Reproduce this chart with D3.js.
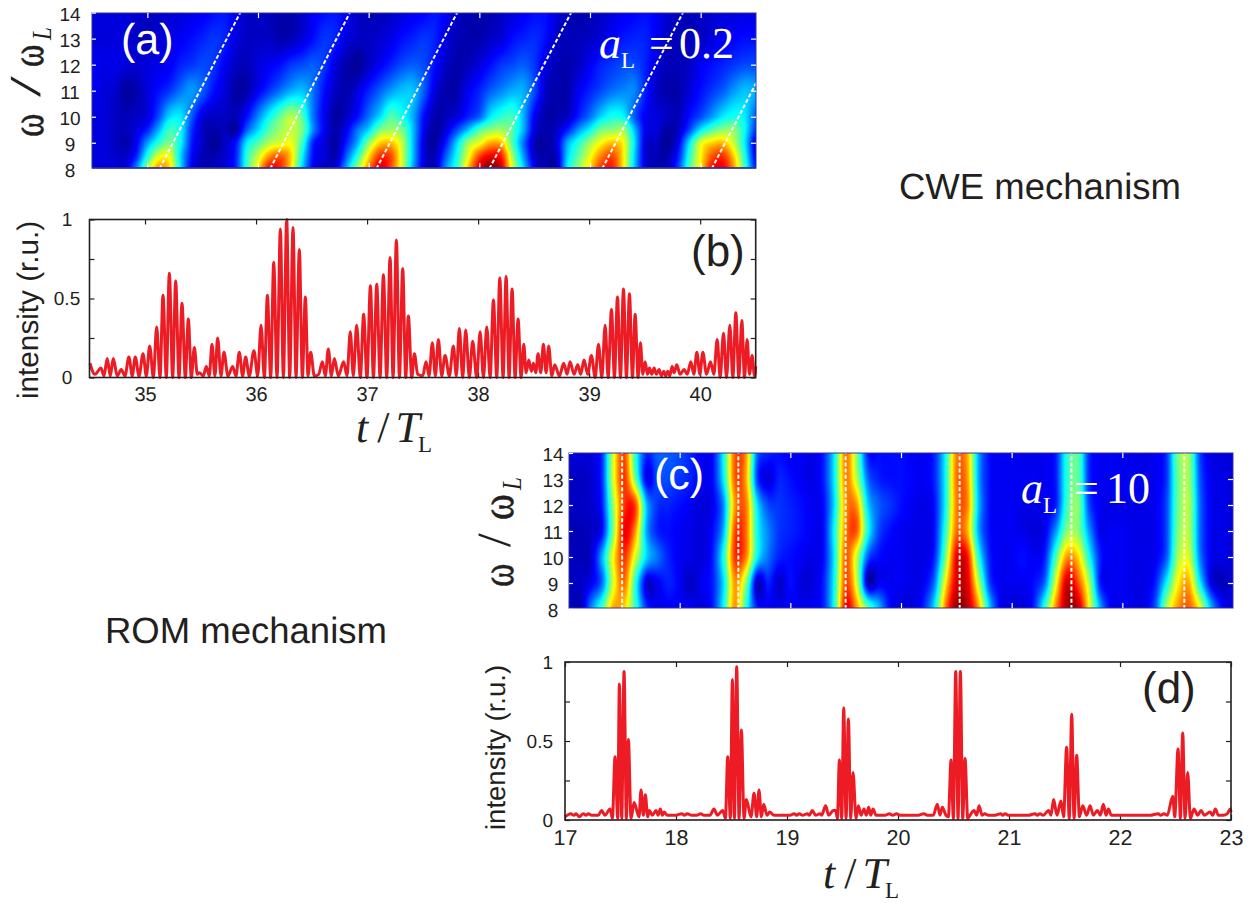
<!DOCTYPE html>
<html>
<head>
<meta charset="utf-8">
<title>CWE and ROM mechanism</title>
<script src="https://d3js.org/d3.v7.min.js"></script>
<style>
  body { margin: 0; background: #fff; }
  svg { display: block; }
  text { font-family: "Liberation Sans", Arial, sans-serif; fill: #231f20; text-rendering: geometricPrecision; }
  .serif { font-family: "Liberation Serif", "Times New Roman", serif; }
  .axis text { font-family: "Liberation Sans", Arial, sans-serif; font-size: 19px; fill: #231f20; }
  .axis path { stroke: none; }
</style>
</head>
<body>
<div class="chart"></div>
<script>
// wavelet maps, values in percent of the colour range
const omegaRowsA = [8, 8.5, 9, 9.5, 10, 11, 12, 13, 14]
const omegaRowsC = [8, 9, 10, 11, 12, 13, 14]
const tColsA = d3.range(0, 61).map(i => 34.5 + i / 10)
const tColsC = d3.range(0, 61).map(i => 17 + i / 10)

const heatA8 = [8,8,8,8,24,52,72,66,34,10, 5,5,8,15,42,64,86,84,64,32, 10,6,8,28,52,74,90,80,58,28, 8,6,26,42,68,90,100,90,58,32, 10,4,5,36,52,66,82,84,64,32, 8,4,6,18,44,64,86,88,72,42,14]
const heatA85 = [8,8,7,6,14,38,58,60,32,12, 5,4,7,14,40,56,72,78,66,36, 12,8,4,20,40,64,82,80,58,30, 8,5,20,38,60,80,88,84,52,26, 6,4,6,32,46,60,74,80,64,32, 8,5,4,14,40,62,78,82,66,38,10]
const heatA9 = [8,8,6,4,10,26,40,48,36,14, 6,2,6,12,34,44,54,58,60,42, 14,8,3,14,28,50,66,68,56,30, 8,3,14,32,52,60,70,68,44,22, 5,3,8,28,40,52,62,68,62,34, 8,6,2,10,34,58,66,68,56,34,8]
const heatA95 = [8,8,6,5,8,14,28,42,36,16, 6,4,5,3,20,32,44,52,56,48, 24,10,4,10,22,32,48,52,48,30, 10,3,8,18,30,44,50,52,44,28, 8,4,6,14,26,36,48,50,52,30, 10,8,3,6,18,34,44,50,50,36,16]
const heatA10 = [8,8,6,5,6,8,18,32,34,20, 8,6,6,5,12,24,36,46,54,44, 22,10,3,6,12,22,32,44,38,28, 12,4,5,8,14,20,34,40,42,28, 10,4,4,6,14,22,32,38,36,20, 10,8,6,5,12,18,26,34,38,34,20]
const heatA11 = [10,8,7,3,4,8,12,16,22,26, 20,12,8,3,4,10,16,22,28,30, 22,12,6,4,8,14,20,26,30,30, 20,8,4,4,10,14,20,24,28,28, 18,6,4,4,10,14,18,22,24,24, 14,6,4,4,8,12,16,20,26,30,28]
const heatA12 = [10,9,9,8,7,8,9,10,14,16, 18,16,10,6,5,8,10,12,16,18, 20,16,8,4,2,6,10,14,18,20, 18,12,6,4,5,8,12,16,18,20, 16,8,5,4,6,10,14,16,18,18, 14,8,5,5,6,10,12,14,16,18,18]
const heatA13 = [8,8,8,8,6,5,7,9,10,12, 14,16,14,8,6,6,6,4,5,8, 12,16,14,8,6,6,7,9,12,14, 16,14,8,5,4,4,6,8,12,14, 15,12,6,5,5,6,8,11,13,14, 14,10,6,5,5,6,8,10,11,12,12]
const heatA14 = [8,8,8,8,7,6,6,7,8,9, 10,12,13,10,6,6,5,4,4,6, 10,12,13,10,6,5,5,6,8,10, 11,13,10,6,4,4,4,6,8,10, 12,12,8,5,4,5,6,8,10,11, 12,10,7,5,5,6,7,8,8,9,9]
const heatA = [heatA8, heatA85, heatA9, heatA95, heatA10, heatA11, heatA12, heatA13, heatA14]

const heatC8 = [7,4,24,44,70,66,42,16,10,10, 10,10,8,14,38,72,40,14,10,10, 10,10,10,14,40,88,72,48,30,12, 8,8,14,34,74,98,94,72,32,10, 8,8,14,42,74,96,94,62,28,10, 10,9,9,20,54,72,78,62,30,12,8]
const heatC9 = [6,6,10,22,58,76,40,8,10,14, 10,6,10,14,34,72,50,6,14,6, 12,8,8,14,38,80,58,6,10,10, 10,9,10,22,62,90,90,56,18,10, 10,10,12,22,60,92,80,54,14,10, 10,9,9,14,36,62,70,36,10,5,8]
const heatC10 = [6,5,7,28,62,82,58,32,22,14, 10,9,8,14,40,82,74,36,22,14, 12,10,9,12,36,78,56,20,12,10, 10,9,9,14,48,88,86,40,14,10, 10,12,10,14,44,72,66,38,14,10, 10,9,9,10,20,52,58,24,10,9,8]
const heatC11 = [5,5,6,12,50,88,72,28,14,12, 10,9,8,12,30,80,76,38,24,16, 14,12,10,12,38,74,78,38,18,12, 10,9,9,12,40,76,70,28,12,10, 10,9,8,10,26,50,50,26,10,10, 10,9,9,10,18,48,54,22,10,9,8]
const heatC12 = [6,6,7,14,52,82,80,30,16,14, 12,10,8,10,26,72,75,34,18,16, 14,12,10,12,34,72,72,32,20,16, 12,10,9,12,36,74,74,30,12,10, 10,9,9,10,14,42,50,18,10,9, 9,9,9,10,18,46,54,22,10,9,8]
const heatC13 = [6,6,7,16,58,82,48,10,18,18, 16,14,10,12,36,78,70,18,8,14, 12,10,9,14,36,74,55,22,14,12, 12,11,10,14,36,75,72,28,12,10, 10,10,10,10,14,40,46,15,10,10, 10,10,9,10,16,46,52,20,10,9,8]
const heatC14 = [8,8,8,16,58,80,40,15,20,20, 18,14,10,12,38,78,72,22,14,12, 10,10,9,14,36,75,50,14,12,12, 12,10,10,14,36,74,70,28,12,10, 10,9,9,10,14,40,45,15,10,10, 9,9,9,10,16,48,52,18,9,8,8]
const heatC = [heatC8, heatC9, heatC10, heatC11, heatC12, heatC13, heatC14]

// dashed guide lines, t at omega = 8 and at omega = 14
const guideStartA = [35.11, 36.11, 37.07, 38.09, 39.11, 40.10]
const guideEndA = [35.84, 36.83, 37.80, 38.83, 39.84, 40.83]
const guideC = [17.48, 18.53, 19.50, 20.53, 21.54, 22.56]

// intensity traces
const timeB = [34.504,34.549,34.603,34.630,34.660,34.687,34.714,34.750,34.786,34.819,34.855,34.885,34.912,34.946,34.982,35.012,35.042,35.075,35.105,35.135,35.162,35.192,35.219,35.249,35.276,35.306,35.333,35.363,35.390,35.417,35.444,35.471,35.489,35.525,35.552,35.579,35.603,35.630,35.654,35.684,35.711,35.747,35.789,35.819,35.849,35.879,35.906,35.939,35.981,36.015,36.045,36.075,36.102,36.132,36.159,36.189,36.219,36.246,36.276,36.303,36.333,36.360,36.390,36.417,36.444,36.468,36.492,36.525,36.564,36.597,36.624,36.651,36.678,36.705,36.741,36.789,36.819,36.849,36.876,36.906,36.939,36.969,36.999,37.030,37.057,37.087,37.117,37.147,37.177,37.207,37.234,37.264,37.291,37.321,37.348,37.372,37.402,37.426,37.456,37.501,37.531,37.558,37.588,37.615,37.642,37.672,37.702,37.741,37.777,37.804,37.831,37.861,37.888,37.921,37.951,37.987,38.018,38.048,38.078,38.108,38.138,38.168,38.195,38.225,38.252,38.279,38.306,38.333,38.360,38.387,38.411,38.432,38.456,38.480,38.498,38.519,38.540,38.564,38.588,38.612,38.636,38.663,38.690,38.732,38.771,38.801,38.828,38.864,38.897,38.924,38.954,38.987,39.020,39.054,39.084,39.114,39.144,39.171,39.201,39.228,39.255,39.282,39.309,39.336,39.363,39.390,39.414,39.441,39.462,39.483,39.504,39.525,39.543,39.564,39.585,39.606,39.630,39.651,39.672,39.690,39.708,39.726,39.747,39.765,39.789,39.819,39.855,39.883,39.916,39.943,39.970,39.997,40.024,40.057,40.093,40.123,40.153,40.180,40.210,40.237,40.267,40.294,40.321,40.348,40.375,40.399,40.423,40.444,40.468,40.489,40.500]
const intensityB = [.09,.02,.06,.01,.12,.01,.12,.01,.05,.01,.13,.01,.13,.01,.15,.01,.20,0,.32,0,.52,0,.66,0,.61,0,.47,0,.37,0,.19,.02,.03,.01,.07,.01,.21,.01,.25,.01,.16,.01,.07,.01,.16,.01,.13,.01,.17,.01,.33,0,.52,0,.73,0,.94,0,1,0,.95,0,.81,0,.51,.01,.16,.01,.02,.10,.01,.18,.01,.12,.01,.10,.01,.29,.01,.33,0,.40,0,.58,0,.59,0,.65,0,.76,0,.87,0,.69,0,.39,0,.15,.02,.01,.10,.01,.22,.01,.24,.01,.14,.01,.20,.01,.31,0,.30,0,.23,0,.29,0,.32,0,.49,0,.63,0,.64,0,.56,0,.37,0,.21,.03,.11,.04,.09,.03,.15,.03,.21,.03,.20,.01,.08,.01,.09,.02,.10,.02,.08,.02,.11,.02,.14,0,.21,0,.33,0,.43,0,.51,0,.56,0,.53,0,.40,0,.22,.02,.10,.02,.06,.02,.06,.02,.05,.01,.04,.01,.04,.01,.07,.03,.08,.02,.05,.02,.10,.02,.16,.02,.16,.02,.10,.02,.24,0,.28,0,.33,0,.41,0,.36,0,.24,.02,.14,.01,.07]

const timeD = [17.000,17.051,17.081,17.099,17.129,17.165,17.189,17.210,17.240,17.270,17.300,17.330,17.360,17.406,17.427,17.451,17.475,17.490,17.511,17.532,17.553,17.571,17.595,17.622,17.667,17.685,17.706,17.724,17.745,17.760,17.787,17.820,17.838,17.859,17.877,17.892,17.922,17.961,18.000,18.051,18.075,18.102,18.141,18.186,18.222,18.252,18.306,18.342,18.372,18.421,18.445,18.466,18.490,18.508,18.526,18.547,18.568,18.589,18.613,18.634,18.676,18.703,18.727,18.748,18.769,18.790,18.820,18.844,18.883,18.937,18.982,19.027,19.063,19.087,19.111,19.141,19.183,19.201,19.228,19.258,19.297,19.312,19.348,19.375,19.417,19.439,19.454,19.472,19.493,19.511,19.532,19.553,19.574,19.595,19.622,19.643,19.667,19.694,19.715,19.736,19.754,19.775,19.802,19.838,19.883,19.922,19.952,19.988,20.018,20.108,20.183,20.234,20.264,20.318,20.354,20.378,20.399,20.432,20.454,20.478,20.499,20.520,20.541,20.562,20.583,20.604,20.628,20.649,20.685,20.709,20.730,20.757,20.781,20.814,20.874,20.925,20.943,20.964,20.994,21.069,21.123,21.174,21.234,21.255,21.279,21.309,21.357,21.378,21.402,21.432,21.468,21.492,21.519,21.543,21.565,21.586,21.610,21.634,21.664,21.700,21.730,21.760,21.796,21.823,21.850,21.874,21.895,21.922,22.000,22.120,22.270,22.345,22.366,22.396,22.426,22.475,22.493,22.523,22.544,22.565,22.586,22.610,22.634,22.667,22.700,22.730,22.760,22.811,22.835,22.859,22.886,22.931,22.967,22.994,23.000]
const intensityD = [.02,.04,.03,.04,.02,.04,.03,.04,.03,.03,.03,.06,.03,.07,.01,.40,.01,.86,.01,.94,.01,.51,.01,.11,.02,.19,.03,.16,.02,.06,.03,.06,.03,.07,.03,.05,.03,.03,.03,.04,.03,.04,.03,.03,.04,.03,.03,.07,.03,.06,.01,.40,.01,.89,.01,.97,.01,.57,.01,.13,.02,.17,.02,.19,.02,.10,.03,.05,.03,.03,.03,.03,.04,.03,.04,.03,.04,.03,.06,.03,.04,.03,.09,.03,.06,.06,.01,.38,.01,.71,.01,.64,.01,.30,.01,.09,.03,.07,.03,.08,.03,.07,.03,.03,.03,.04,.03,.04,.03,.03,.03,.04,.03,.03,.10,.03,.08,.03,.02,.38,.01,.94,.01,.94,.01,.39,.01,.03,.06,.03,.09,.03,.04,.03,.03,.04,.03,.04,.03,.03,.03,.03,.04,.03,.04,.03,.06,.03,.13,.03,.12,.02,.46,.01,.67,.01,.41,.02,.09,.03,.09,.03,.06,.03,.10,.03,.07,.03,.03,.03,.03,.04,.03,.04,.03,.15,.02,.45,.01,.55,.01,.30,.01,.07,.03,.06,.03,.05,.03,.07,.03,.03,.04,.07,.05]

const ticksB = [35, 36, 37, 38, 39, 40]
const ticksD = [17, 18, 19, 20, 21, 22, 23]
const ticksOmega = [8, 9, 10, 11, 12, 13, 14]
const ticksIntensity = [0, 0.25, 0.5, 0.75, 1]

const width = 1251
const height = 903

const jet = d3.scaleLinear()
  .domain([0, 11, 36, 49, 62, 87, 100])
  .range(['#000080', '#0000ff', '#00ffff', '#7fff7f', '#ffff00', '#ff0000', '#800000'])
  .clamp(true)

const svg = d3.select('.chart')
  .append('svg')
  .attr('width', width)
  .attr('height', height)

// cubic through four neighbours, so the map stays smooth between table entries
function cubic(p0, p1, p2, p3, f) {
  return p1 + 0.5 * f * (p2 - p0 + f * (2 * p0 - 5 * p1 + 4 * p2 - p3 + f * (3 * (p1 - p2) + p3 - p0)))
}

function sample(grid, fx, fy) {
  const rows = grid.length
  const cols = grid[0].length
  const ix = Math.min(Math.floor(fx), cols - 2)
  const iy = Math.min(Math.floor(fy), rows - 2)
  const rowVals = [-1, 0, 1, 2].map(dy => {
    const r = grid[Math.max(0, Math.min(rows - 1, iy + dy))]
    const at = k => r[Math.max(0, Math.min(cols - 1, k))]
    return cubic(at(ix - 1), at(ix), at(ix + 1), at(ix + 2), fx - ix)
  })
  return cubic(rowVals[0], rowVals[1], rowVals[2], rowVals[3], fy - iy)
}

function drawHeat(grid, tCols, omegaRows, x, y, box) {
  const canvas = document.createElement('canvas')
  canvas.width = box.w
  canvas.height = box.h
  const ctx = canvas.getContext('2d')
  const colIndex = d3.scaleLinear().domain(d3.extent(tCols)).range([0, tCols.length - 1]).clamp(true)
  const rowIndex = d3.scaleLinear().domain(omegaRows).range(omegaRows.map((d, i) => i)).clamp(true)
  for (let py = 0; py < box.h; py++) {
    for (let px = 0; px < box.w; px++) {
      const t = x.invert(box.x + px + 0.5)
      const w = y.invert(box.y + py + 0.5)
      ctx.fillStyle = jet(sample(grid, colIndex(t), rowIndex(w)))
      ctx.fillRect(px, py, 1, 1)
    }
  }
  svg.append('image')
    .attr('x', box.x)
    .attr('y', box.y)
    .attr('width', box.w)
    .attr('height', box.h)
    .attr('href', canvas.toDataURL())
}

function heatAxes(x, y, box, ticksX, labelCentre, labelShift) {
  svg.append('rect')
    .attr('x', box.x).attr('y', box.y).attr('width', box.w).attr('height', box.h)
    .attr('fill', 'none')
    .attr('stroke', '#2e3192')
    .attr('stroke-width', 1.2)
    .attr('stroke-opacity', 0.8)
  const g = svg.append('g').attr('class', 'axis')
  const white = sel => sel.selectAll('line').attr('stroke', '#fff').attr('stroke-width', 1.2)
  g.append('g').attr('transform', 'translate(' + box.x + ',0)')
    .call(d3.axisLeft(y).tickValues(ticksOmega).tickSizeInner(-4).tickSizeOuter(0).tickFormat(d3.format('d')))
    .call(white)
    .selectAll('text')
    .attr('text-anchor', 'middle')
    .attr('x', labelCentre - box.x)
    .attr('dy', labelShift)
  g.append('g').attr('transform', 'translate(' + (box.x + box.w) + ',0)')
    .call(d3.axisRight(y).tickValues(ticksOmega.slice(1, -1)).tickSizeInner(-5).tickSizeOuter(0).tickFormat(''))
    .call(white)
  g.append('g').attr('transform', 'translate(0,' + box.y + ')')
    .call(d3.axisTop(x).tickValues(ticksX).tickSizeInner(-5).tickSizeOuter(0).tickFormat(''))
    .call(white)
  g.append('g').attr('transform', 'translate(0,' + (box.y + box.h) + ')')
    .call(d3.axisBottom(x).tickValues(ticksX).tickSizeInner(-5).tickSizeOuter(0).tickFormat(''))
    .call(white)
}

function drawGuides(id, box, starts, ends, x, y) {
  svg.append('clipPath').attr('id', id)
    .append('rect').attr('x', box.x).attr('y', box.y).attr('width', box.w).attr('height', box.h)
  svg.append('g').attr('clip-path', 'url(#' + id + ')')
    .selectAll('line')
    .data(starts)
    .enter()
    .append('line')
    .attr('x1', d => x(d))
    .attr('x2', (d, i) => x(ends[i]))
    .attr('y1', y(8))
    .attr('y2', y(14))
    .attr('stroke', '#fffbe8')
    .attr('stroke-width', 2)
    .attr('stroke-dasharray', '4 2.2')
}

function drawTrace(times, values, x, y, box, ticksX, labelPad, labelSize) {
  const g = svg.append('g').attr('class', 'axis')
  const dark = sel => sel.selectAll('line').attr('stroke', '#231f20').attr('stroke-width', 1.2)
  g.append('g').attr('transform', 'translate(0,' + (box.y + box.h) + ')')
    .call(d3.axisBottom(x).tickValues(ticksX).tickSizeInner(-5).tickSizeOuter(0).tickPadding(labelPad).tickFormat(d3.format('d')))
    .call(dark)
    .selectAll('text').style('font-size', labelSize + 'px')
  g.append('g').attr('transform', 'translate(0,' + box.y + ')')
    .call(d3.axisTop(x).tickValues(ticksX).tickSizeInner(-5).tickSizeOuter(0).tickFormat(''))
    .call(dark)
  const left = g.append('g').attr('class', 'y-left').attr('transform', 'translate(' + box.x + ',0)')
    .call(d3.axisLeft(y).tickValues(ticksIntensity).tickSizeInner(-5).tickSizeOuter(0).tickPadding(12).tickFormat(d => (d * 2) % 1 === 0 ? d : ''))
    .call(dark)
  g.append('g').attr('transform', 'translate(' + (box.x + box.w) + ',0)')
    .call(d3.axisRight(y).tickValues(ticksIntensity).tickSizeInner(-5).tickSizeOuter(0).tickFormat(''))
    .call(dark)

  const line = d3.line()
    .x(d => x(d))
    .y((d, i) => y(values[i]))
    .curve(d3.curveMonotoneX)
  svg.append('path')
    .attr('d', line(times))
    .attr('fill', 'none')
    .attr('stroke', '#ed1c24')
    .attr('stroke-width', 3)
    .attr('stroke-linejoin', 'round')

  svg.append('rect')
    .attr('x', box.x).attr('y', box.y).attr('width', box.w).attr('height', box.h)
    .attr('fill', 'none')
    .attr('stroke', '#231f20')
    .attr('stroke-width', 1.6)
  return left
}

function label(x, y, str, size, color) {
  return svg.append('text')
    .attr('x', x).attr('y', y)
    .attr('font-size', size)
    .style('fill', color || '#231f20')
    .text(str)
}

// rotated glyph, stretched because the picture uses a wider symbol font
function glyph(x, y, str, size, sx, sy, opts) {
  svg.append('text')
    .attr('class', 'serif')
    .attr('transform', 'translate(' + x + ',' + y + ') rotate(-90) scale(' + sx + ',' + sy + ')')
    .attr('font-size', size)
    .attr('font-style', opts && opts.italic ? 'italic' : 'normal')
    .attr('stroke', '#231f20')
    .attr('stroke-width', opts && opts.thin ? 0 : 0.4)
    .text(str)
}

function omegaLabel(x, y, slash, upper) {
  glyph(x, y, 'ω', 34, 1.05, 1.35)
  glyph(x - 3, y - slash.gap, '/', 34, slash.sx, slash.sy, { thin: true })
  glyph(x, y - upper.gap, 'ω', 34, upper.sx, 1.35)
  glyph(x + 8, y - 97, 'L', 23, 1, 1.2, { italic: true, thin: true })
}

function timeLabel(x, y, subDrop) {
  const t = svg.append('text').attr('class', 'serif').attr('x', x).attr('y', y).attr('font-size', 44)
  t.append('tspan').attr('font-style', 'italic').text('t')
  t.append('tspan').attr('dx', 9).text('/')
  t.append('tspan').attr('dx', 6).attr('font-style', 'italic').text('T')
  t.append('tspan').attr('dx', -2).attr('font-size', 23).attr('dy', subDrop).text('L')
}

function amplitudeLabel(x, y, value, gapEq, gapValue) {
  const t = svg.append('text').attr('class', 'serif').attr('x', x).attr('y', y).attr('font-size', 44).style('fill', '#fff')
  t.append('tspan').attr('font-style', 'italic').style('fill', '#fff').text('a')
  t.append('tspan').attr('font-size', 23).attr('dy', 10).style('fill', '#fff').text('L')
  t.append('tspan').attr('dy', -10).attr('dx', gapEq).style('fill', '#fff').text('=')
  t.append('tspan').attr('dx', gapValue).style('fill', '#fff').text(value)
}

// panel (a)
const boxA = { x: 92, y: 13, w: 664, h: 155 }
const xA = d3.scaleLinear().domain([34.5, 40.5]).range([92, 756])
const yA = d3.scaleLinear().domain([8, 14]).range([168.8, 12.6])
drawHeat(heatA, tColsA, omegaRowsA, xA, yA, boxA)
drawGuides('clipA', boxA, guideStartA, guideEndA, xA, yA)
heatAxes(xA, yA, boxA, ticksB, 70, '0.4em')
svg.append('line').attr('x1', 92).attr('x2', 756).attr('y1', 168).attr('y2', 168).attr('stroke', '#2e3192').attr('stroke-width', 1.5)
label(121, 54, '(a)', 43, '#fff')
amplitudeLabel(599, 58, '0.2', 14, 5)
omegaLabel(43, 137, { gap: 40, sx: 2.2, sy: 1.3 }, { gap: 70, sx: 1 })

// panel (b)
const boxB = { x: 89.5, y: 219.5, w: 666.2, h: 158 }
const xB = d3.scaleLinear().domain([34.5, 40.5]).range([89.5, 755.7])
const yB = d3.scaleLinear().domain([0, 1]).range([377.5, 219.5])
drawTrace(timeB, intensityB, xB, yB, boxB, ticksB, 9, 20)
  .selectAll('text')
  .attr('text-anchor', 'middle')
  .attr('x', -22.5)
label(691, 266, '(b)', 44)
label(0, 0, 'intensity (r.u.)', 29.7).attr('transform', 'translate(38,399) rotate(-90)')
timeLabel(356, 442, 10)

// panel (c)
const boxC = { x: 569, y: 453, w: 664, h: 155 }
const xC = d3.scaleLinear().domain([17, 23]).range([569, 1233])
const yC = d3.scaleLinear().domain([8, 14]).range([609, 453])
drawHeat(heatC, tColsC, omegaRowsC, xC, yC, boxC)
drawGuides('clipC', boxC, guideC, guideC, xC, yC)
heatAxes(xC, yC, boxC, ticksD.slice(1, -1), 553, '0.42em')
label(654, 489, '(c)', 43, '#fff')
amplitudeLabel(1021, 503, '10', 17, 7)
omegaLabel(513, 587, { gap: 40, sx: 1.45, sy: 1.4 }, { gap: 67, sx: 1.15 })

// panel (d)
const boxD = { x: 565, y: 662, w: 666, h: 158 }
const xD = d3.scaleLinear().domain([17, 23]).range([565, 1231])
const yD = d3.scaleLinear().domain([0, 1]).range([820, 662])
drawTrace(timeD, intensityD, xD, yD, boxD, ticksD, 10, 21.5)
label(1142, 703, '(d)', 44)
label(0, 0, 'intensity (r.u.)', 27.5).attr('transform', 'translate(505,830) rotate(-90)')
timeLabel(823, 888, 9.5)

// mechanism captions
label(899, 199, 'CWE mechanism', 36.5)
label(105, 643, 'ROM mechanism', 36.5)
</script>
</body>
</html>
